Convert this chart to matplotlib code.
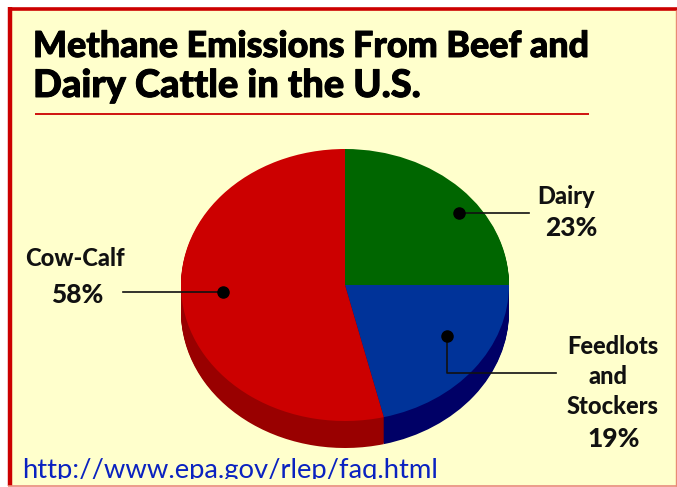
import matplotlib
matplotlib.use("Agg")
import matplotlib.pyplot as plt
import matplotlib.patheffects as pe
from matplotlib.patches import Rectangle
from matplotlib.transforms import Bbox, TransformedBbox

# Shares as drawn in the picture (clockwise from 12 o'clock); printed labels differ
categories = ["Dairy", "Feedlots and Stockers", "Cow-Calf"]
drawn_shares = [25.0, 21.2, 53.8]
printed_percent = [23, 19, 58]
top_colors = ["#006600", "#003399", "#CC0000"]
side_colors = ["#004400", "#000066", "#990000"]
title_lines = ["Methane Emissions From Beef and", "Dairy Cattle in the U.S."]
url_text = "http://www.epa.gov/rlep/faq.html"

W, H = 677, 487
fig = plt.figure(figsize=(W / 100, H / 100), dpi=100, facecolor="white")

bg = fig.add_axes([0, 0, 1, 1], zorder=0)
bg.set_xlim(0, W); bg.set_ylim(H, 0); bg.axis("off")
bg.add_patch(Rectangle((10, 9), W - 10, H - 9 - 2, fc="#FFFFCC", ec="none"))
bg.plot([10, 10], [7, 486], color="#CC0000", lw=3.2, solid_capstyle="butt")
bg.plot([8, W], [8.5, 8.5], color="#CC0000", lw=2.6, solid_capstyle="butt")
bg.plot([8, W], [485.5, 485.5], color="#E98A75", lw=1.2, solid_capstyle="butt")
bg.plot([676, 676], [10, 486], color="#E98A75", lw=1.0, solid_capstyle="butt")
bg.plot([35, 589], [113.5, 113.5], color="#CC0000", lw=1.3, solid_capstyle="butt")

# pie axes: unit radius = 164 px across, 136 px tall, centred at (345, 285)
cx, cy, rx, ry = 345, 285, 164, 136
xr, yr = 1.3, 1.5
pie_ax = fig.add_axes([(cx - xr * rx) / W, 1 - (cy + yr * ry) / H, 2 * xr * rx / W, 2 * yr * ry / H], zorder=1)
depth_px = 27
for d in range(depth_px, 0, -1):
    pie_ax.pie(drawn_shares, colors=side_colors, startangle=90, counterclock=False,
               center=(0, -d / ry), radius=1,
               wedgeprops=dict(edgecolor="none", linewidth=0, antialiased=True))
pie_ax.pie(drawn_shares, colors=top_colors, startangle=90, counterclock=False,
           center=(0, 0), radius=1, wedgeprops=dict(edgecolor="none", linewidth=0))
pie_ax.set_aspect("auto")
pie_ax.set_xlim(-xr, xr); pie_ax.set_ylim(-yr, yr)
pie_ax.axis("off")
pie_ax.patch.set_alpha(0)

ov = fig.add_axes([0, 0, 1, 1], zorder=2)
ov.set_xlim(0, W); ov.set_ylim(H, 0); ov.axis("off"); ov.patch.set_alpha(0)

# title
head = dict(family="Lato", weight=900, color="#000", va="baseline", ha="left",
            path_effects=[pe.withStroke(linewidth=0.7, foreground="#000")])
ov.text(33, 57, title_lines[0], fontsize=25.8, **head)
ov.text(33, 97, title_lines[1], fontsize=27.4, **head)

# callouts
lc = "#111111"
ov.plot([123, 223], [292, 292], color=lc, lw=1.2)
ov.plot([223], [292], "o", color="#000", ms=8)
ov.plot([459, 529], [213, 213], color=lc, lw=1.2)
ov.plot([459], [213], "o", color="#000", ms=8)
ov.plot([447, 447, 556], [336, 373, 373], color=lc, lw=1.2)
ov.plot([447], [336], "o", color="#000", ms=8)

lab = dict(family="Lato", weight=900, color="#111111", va="center", ha="center", fontsize=17)
pct = {**lab, "fontsize": 19}
ov.text(75, 258, "Cow-Calf", **lab)
ov.text(77, 295, f"{printed_percent[2]}%", **pct)
ov.text(566, 196, "Dairy", **lab)
ov.text(571, 228, f"{printed_percent[0]}%", **pct)
ov.text(613, 346, "Feedlots", **lab)
ov.text(608, 376, "and", **lab)
ov.text(613, 407, "Stockers", **lab)
ov.text(614, 439, f"{printed_percent[1]}%", **pct)

t = ov.text(22, 478, url_text, family="Lato", color="#0A22C0", fontsize=19.7, va="baseline", ha="left")
t.set_clip_box(TransformedBbox(Bbox([[0, 0], [W, 479]]), ov.transData))
t.set_clip_on(True)

fig.savefig("out.png", dpi=100)
